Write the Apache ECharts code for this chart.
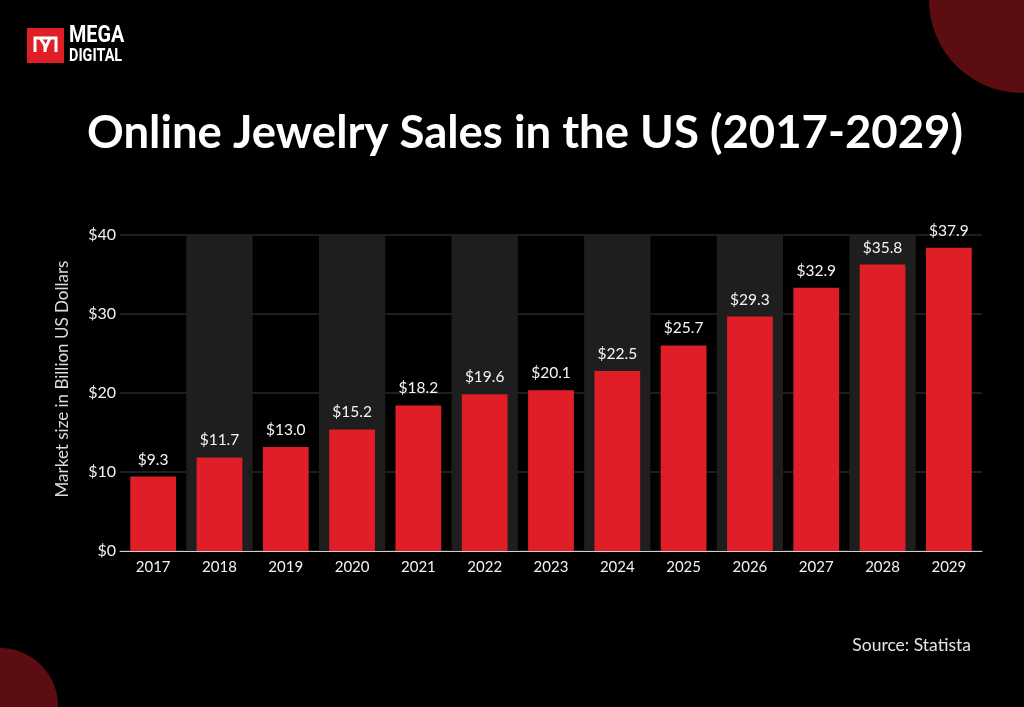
<!DOCTYPE html>
<html>
<head>
<meta charset="utf-8">
<script src="https://cdn.jsdelivr.net/npm/echarts@6/dist/echarts.min.js"></script>
<style>
html,body{margin:0;padding:0;background:#000;}
#chart{width:1024px;height:707px;}
</style>
</head>
<body>
<div id="chart"></div>
<script>
const years = ['2017','2018','2019','2020','2021','2022','2023','2024','2025','2026','2027','2028','2029'];
const salesBillionUSD = [9.3, 11.7, 13.0, 15.2, 18.2, 19.6, 20.1, 22.5, 25.7, 29.3, 32.9, 35.8, 37.9];
const yTicks = [0, 10, 20, 30, 40];
const titleText = 'Online Jewelry Sales in the US (2017-2029)';
const yAxisTitle = 'Market size in Billion US Dollars';
const sourceText = 'Source: Statista';

const FONT = 'Lato, "Open Sans", sans-serif';
const LOGO_FONT = 'Roboto, "Liberation Sans", sans-serif';
const chart = echarts.init(document.getElementById('chart'), null, {renderer: 'canvas'});

chart.setOption({
  backgroundColor: '#000000',
  animation: false,
  grid: {left: 120, right: 42, top: 235, bottom: 156, containLabel: false},
  xAxis: {
    type: 'category',
    data: years,
    axisLine: {show: true, lineStyle: {color: '#cfcfcf', width: 1}},
    axisTick: {show: false},
    axisLabel: {color: '#f2f2f2', fontSize: 15, fontFamily: FONT, margin: 9},
    splitArea: {show: true, areaStyle: {color: ['rgba(0,0,0,0)', '#1e1e1e']}}
  },
  yAxis: [{
    type: 'value',
    min: yTicks[0],
    max: yTicks[yTicks.length - 1],
    interval: 10,
    name: yAxisTitle,
    nameLocation: 'middle',
    nameRotate: 90,
    nameGap: 49,
    nameTextStyle: {color: '#dcdcdc', fontSize: 17, fontFamily: FONT, padding: [0, 0, 0, 28]},
    axisLine: {show: false},
    axisTick: {show: false},
    axisLabel: {color: '#f2f2f2', fontSize: 16, fontFamily: FONT, margin: 4,
      formatter: v => '$' + v},
    splitLine: {show: true, lineStyle: {color: '#1e1e1e', width: 2}}
  }, {
    type: 'value',
    show: false,
    min: 0,
    max: 39.5,
    splitLine: {show: false}
  }],
  series: [{
    type: 'bar',
    yAxisIndex: 1,
    data: salesBillionUSD,
    barCategoryGap: '31%',
    itemStyle: {color: '#e01e27'},
    label: {
      show: true, position: 'top', distance: 9,
      color: '#f5f5f5', fontSize: 15.5, fontFamily: FONT,
      formatter: p => '$' + p.value.toFixed(1)
    }
  }],
  graphic: [
    {type: 'circle', shape: {cx: 1022, cy: 0, r: 93}, style: {fill: '#5c0d12'}, z: -1},
    {type: 'circle', shape: {cx: 0, cy: 706, r: 58}, style: {fill: '#5c0d12'}, z: -1},
    {type: 'rect', shape: {x: 27, y: 28, width: 37, height: 35}, style: {fill: '#e01e27'}},
    {type: 'polyline', shape: {points: [[35,52],[35,38],[56,38],[56,52]]}, style: {stroke: '#fff', lineWidth: 3, fill: null}},
    {type: 'polyline', shape: {points: [[40,38],[46,47],[50,38]]}, style: {stroke: '#fff', lineWidth: 3, fill: null}},
    {type: 'polyline', shape: {points: [[45,52],[45,44]]}, style: {stroke: '#fff', lineWidth: 3, fill: null}},
    {type: 'text', x: 69, y: 25, scaleX: 0.86, style: {text: 'MEGA', fill: '#ffffff', fontSize: 23, fontWeight: 'bold', fontFamily: LOGO_FONT}},
    {type: 'text', x: 69, y: 47, scaleX: 0.78, style: {text: 'DIGITAL', fill: '#ffffff', fontSize: 18.5, fontWeight: 'bold', fontFamily: LOGO_FONT}},
    {type: 'text', x: 525, y: 133, style: {text: titleText, fill: '#ffffff', fontSize: 45.5, fontWeight: 'bold', fontFamily: FONT, align: 'center', verticalAlign: 'middle'}},
    {type: 'text', x: 971, y: 645, style: {text: sourceText, fill: '#e6e6e6', fontSize: 17.5, fontFamily: FONT, align: 'right', verticalAlign: 'middle'}}
  ]
});
</script>
</body>
</html>
